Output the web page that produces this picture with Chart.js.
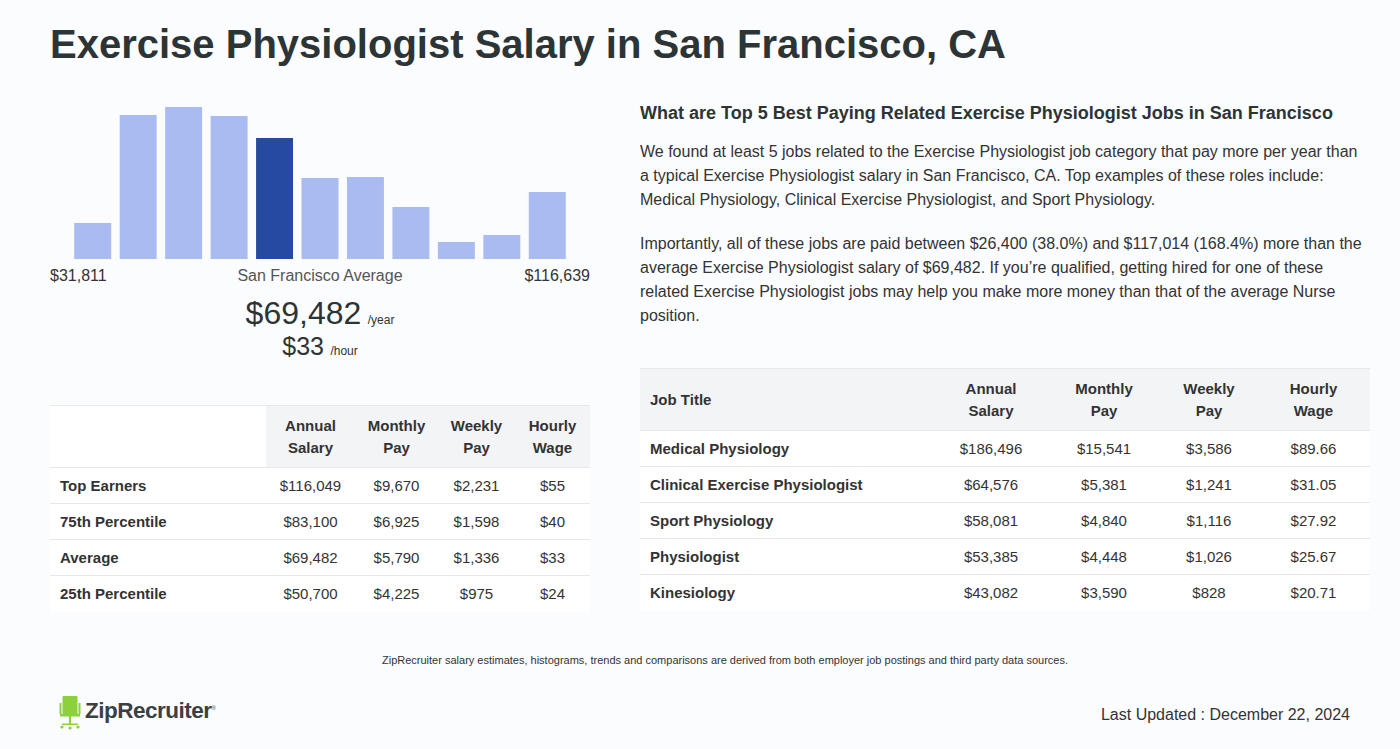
<!DOCTYPE html>
<html>
<head>
<meta charset="utf-8">
<script src="https://cdn.jsdelivr.net/npm/chart.js@4/dist/chart.umd.min.js"></script>
<style>
  html, body { margin:0; padding:0; }
  body { width:1400px; height:749px; background:#fbfcfe; font-family:"Liberation Sans", Arial, Helvetica, sans-serif; color:#2d3436; position:relative; overflow:hidden; }
  .abs { position:absolute; }
  h1 { position:absolute; left:50px; top:22px; margin:0; font-size:40px; font-weight:bold; color:#2d3436; letter-spacing:0; }
  #histWrap { position:absolute; left:70px; top:99px; width:500px; height:160px; }
  .lbl { position:absolute; font-size:16px; color:#333; top:266px; line-height:20px; }
  table { border-collapse:collapse; position:absolute; font-size:15px; color:#333; }
  td, th { padding:0; box-sizing:border-box; }
  .tl td { height:36px; border-top:1px solid #e6e8eb; background:#fff; text-align:center; }
  .tl td.first { text-align:left; padding-left:10px; font-weight:bold; }
  .tl th { height:62px; background:#f3f4f6; font-weight:bold; line-height:22px; border-top:1px solid #e6e8eb; }
  .tl th.blank { background:#fff; }
  p { margin:0; }
</style>
</head>
<body>
<h1>Exercise Physiologist Salary in San Francisco, CA</h1>

<div id="histWrap"><canvas id="hist"></canvas></div>
<div class="lbl" style="left:50px;">$31,811</div>
<div class="lbl" style="left:170px;width:300px;text-align:center;color:#555;">San Francisco Average</div>
<div class="lbl" style="left:440px;width:150px;text-align:right;">$116,639</div>

<div class="abs" style="left:50px;width:540px;top:295px;text-align:center;color:#2d3436;">
  <span style="font-size:32px;">$69,482</span> <span style="font-size:12px;margin-left:2px;">/year</span>
</div>
<div class="abs" style="left:50px;width:540px;top:332px;text-align:center;color:#2d3436;">
  <span style="font-size:25px;">$33</span> <span style="font-size:12px;margin-left:2px;">/hour</span>
</div>

<table id="leftTable" class="tl" style="left:50px;top:405px;width:540px;"></table>

<div class="abs" style="left:640px;top:103px;font-size:18px;font-weight:bold;color:#2d3436;">What are Top 5 Best Paying Related Exercise Physiologist Jobs in San Francisco</div>
<div class="abs" style="left:640px;top:140px;width:730px;font-size:16px;line-height:24px;color:#333;">
  <p>We found at least 5 jobs related to the Exercise Physiologist job category that pay more per year than a typical Exercise Physiologist salary in San Francisco, CA. Top examples of these roles include: Medical Physiology, Clinical Exercise Physiologist, and Sport Physiology.</p>
  <p style="margin-top:20px;">Importantly, all of these jobs are paid between $26,400 (38.0%) and $117,014 (168.4%) more than the average Exercise Physiologist salary of $69,482. If you’re qualified, getting hired for one of these related Exercise Physiologist jobs may help you make more money than that of the average Nurse position.</p>
</div>

<table id="rightTable" class="tl" style="left:640px;top:368px;width:730px;"></table>

<div class="abs" style="left:0;width:1450px;top:654px;text-align:center;font-size:11px;color:#333;">ZipRecruiter salary estimates, histograms, trends and comparisons are derived from both employer job postings and third party data sources.</div>

<div class="abs" style="left:59px;top:695px;">
  <svg width="22" height="36" viewBox="0 0 22 36">
    <rect x="3.5" y="1" width="15" height="19" rx="1" fill="#8bd13b"/>
    <rect x="0.5" y="8" width="2" height="11" fill="#8bd13b"/>
    <rect x="19.5" y="8" width="2" height="11" fill="#8bd13b"/>
    <rect x="1" y="19" width="20" height="2.5" fill="#8bd13b"/>
    <rect x="10" y="21" width="2" height="9" fill="#8bd13b"/>
    <rect x="3" y="28.5" width="16" height="1.5" fill="#8bd13b"/>
    <circle cx="3" cy="32" r="1.6" fill="#8bd13b"/><circle cx="11" cy="33" r="1.6" fill="#8bd13b"/><circle cx="19" cy="32" r="1.6" fill="#8bd13b"/>
  </svg>
</div>
<div class="abs" style="left:85px;top:698px;font-size:22.5px;font-weight:bold;color:#3b4045;letter-spacing:-0.5px;">ZipRecruiter<sup style="font-size:6px;font-weight:normal;">®</sup></div>

<div class="abs" style="left:1000px;width:350px;top:706px;text-align:right;font-size:16px;color:#333;">Last Updated : December 22, 2024</div>

<script>
// Histogram data (bar heights)
const histBins = ["1","2","3","4","5","6","7","8","9","10","11"];
const histValues = [36, 144, 152, 143, 121, 81, 82, 52, 17, 24, 67];
const highlightIndex = 4;

// Left table
const leftHeaders = ["", "Annual<br>Salary", "Monthly<br>Pay", "Weekly<br>Pay", "Hourly<br>Wage"];
const leftRowLabels = ["Top Earners", "75th Percentile", "Average", "25th Percentile"];
const leftAnnual = ["$116,049", "$83,100", "$69,482", "$50,700"];
const leftMonthly = ["$9,670", "$6,925", "$5,790", "$4,225"];
const leftWeekly = ["$2,231", "$1,598", "$1,336", "$975"];
const leftHourly = ["$55", "$40", "$33", "$24"];

// Right table
const rightHeaders = ["Job Title", "Annual<br>Salary", "Monthly<br>Pay", "Weekly<br>Pay", "Hourly<br>Wage"];
const jobTitles = ["Medical Physiology", "Clinical Exercise Physiologist", "Sport Physiology", "Physiologist", "Kinesiology"];
const jobAnnual = ["$186,496", "$64,576", "$58,081", "$53,385", "$43,082"];
const jobMonthly = ["$15,541", "$5,381", "$4,840", "$4,448", "$3,590"];
const jobWeekly = ["$3,586", "$1,241", "$1,116", "$1,026", "$828"];
const jobHourly = ["$89.66", "$31.05", "$27.92", "$25.67", "$20.71"];

function buildTable(id, headers, labels, cols, widths) {
  const t = document.getElementById(id);
  let h = "<colgroup>" + widths.map(w => `<col style="width:${w}px">`).join("") + "</colgroup><tr>";
  headers.forEach((hd, i) => {
    if (i === 0) {
      h += hd === "" ? `<th class="blank"></th>` : `<th style="text-align:left;padding-left:10px;">${hd}</th>`;
    } else h += `<th>${hd}</th>`;
  });
  h += "</tr>";
  labels.forEach((lb, r) => {
    h += `<tr><td class="first">${lb}</td>` + cols.map(c => `<td>${c[r]}</td>`).join("") + "</tr>";
  });
  t.innerHTML = h;
}
buildTable("leftTable", leftHeaders, leftRowLabels, [leftAnnual, leftMonthly, leftWeekly, leftHourly], [216, 89, 83, 77, 75]);
buildTable("rightTable", rightHeaders, jobTitles, [jobAnnual, jobMonthly, jobWeekly, jobHourly], [295, 112, 114, 96, 113]);

new Chart(document.getElementById("hist"), {
  type: "bar",
  data: {
    labels: histBins,
    datasets: [{
      data: histValues,
      backgroundColor: histValues.map((v, i) => i === highlightIndex ? "#264aa0" : "#a9bbf1"),
      borderWidth: 0,
      barPercentage: 0.813,
      categoryPercentage: 1.0
    }]
  },
  options: {
    responsive: true,
    maintainAspectRatio: false,
    animation: false,
    layout: { padding: 0 },
    plugins: { legend: { display: false }, tooltip: { enabled: false } },
    scales: {
      x: { display: false },
      y: { display: false, min: 0, max: 160 }
    }
  }
});
</script>
</body>
</html>
